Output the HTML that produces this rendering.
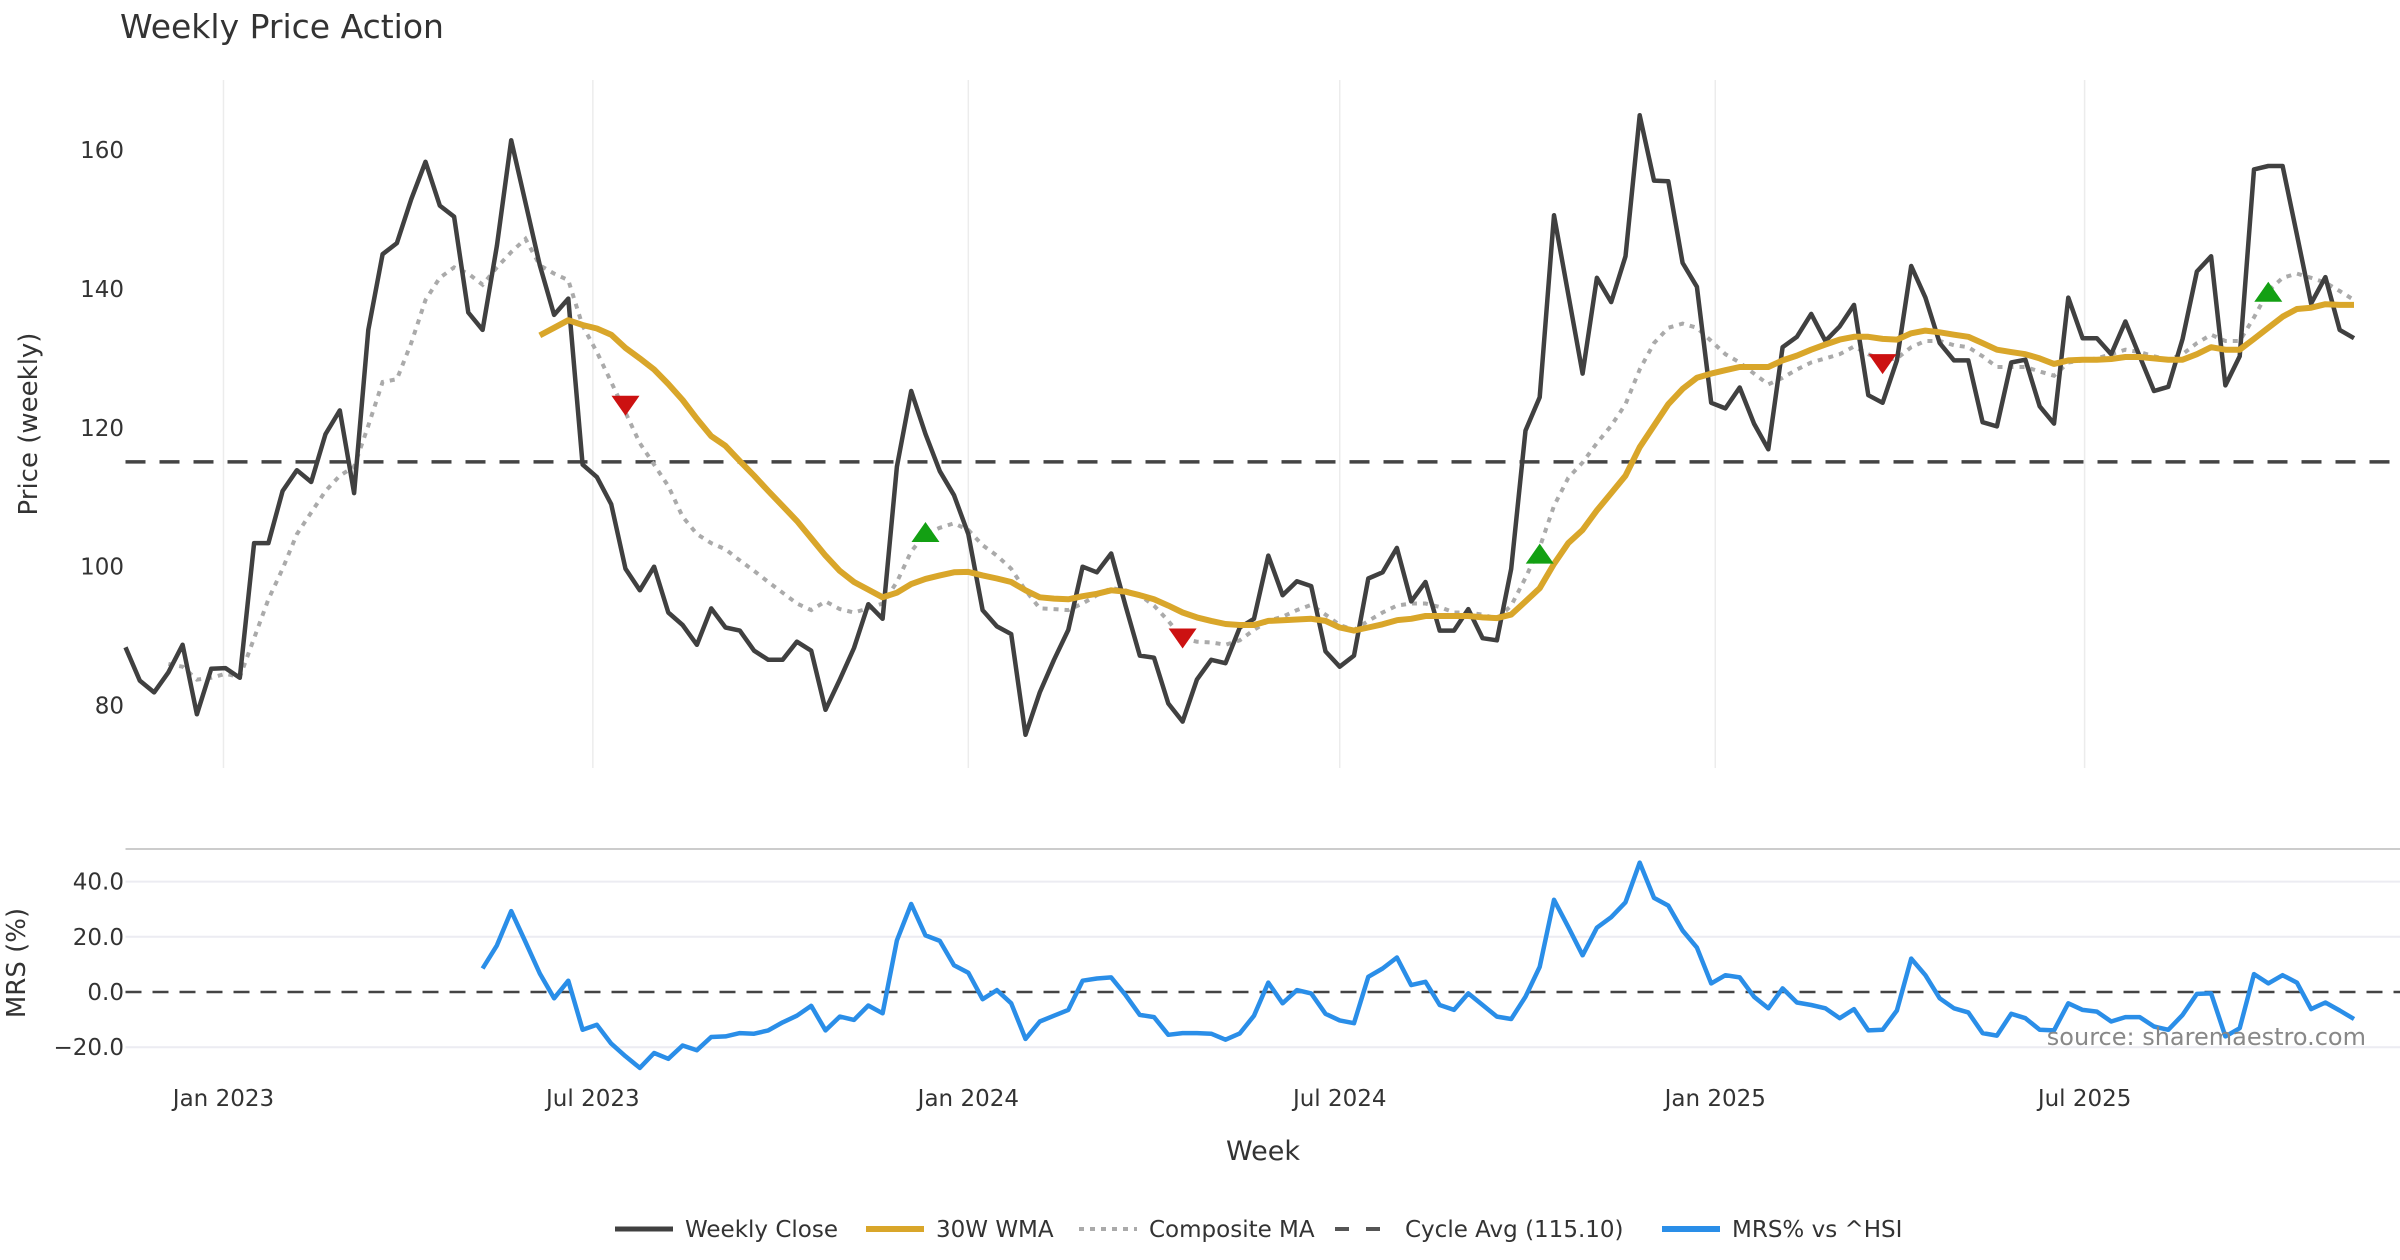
<!DOCTYPE html>
<html><head><meta charset="utf-8"><title>Weekly Price Action</title>
<style>
html,body{margin:0;padding:0;background:#fff;}
svg{display:block;font-family:"DejaVu Sans","Liberation Sans",sans-serif;}
</style></head>
<body>
<svg id="chart" width="2400" height="1260" viewBox="0 0 2400 1260" xmlns="http://www.w3.org/2000/svg">
<text x="120" y="38" font-size="33" fill="#333">Weekly Price Action</text>
<g id="main"></g>
<g id="mrs"></g>
<text x="2366" y="1045" font-size="24" fill="#888" text-anchor="end">source: sharemaestro.com</text>
<text x="1263" y="1160" font-size="27" fill="#333" text-anchor="middle">Week</text>
<text transform="translate(37,424) rotate(-90)" font-size="26" fill="#333" text-anchor="middle">Price (weekly)</text>
<text transform="translate(25,963) rotate(-90)" font-size="26" fill="#333" text-anchor="middle">MRS (%)</text>
<g id="legend"></g>
</svg>
<script>
const startDate = "2022-11-14";
const closeValues = [88.4,83.6,81.9,84.8,88.75,78.75,85.3,85.4,84,103.4,103.4,110.9,113.9,112.2,119.1,122.5,110.6,134.1,145,146.6,152.9,158.3,152,150.4,136.6,134.1,146.2,161.4,152.4,143.4,136.25,138.6,114.7,112.9,109,99.7,96.6,100,93.4,91.6,88.75,94,91.25,90.8,87.9,86.6,86.6,89.2,87.9,79.4,83.75,88.3,94.6,92.5,114.4,125.3,119.1,113.75,110.3,104.7,93.75,91.4,90.3,75.8,81.9,86.6,90.9,100,99.2,101.9,94.4,87.2,86.9,80.3,77.7,83.75,86.6,86.1,91.25,92.5,101.6,95.9,97.9,97.2,87.8,85.6,87.2,98.3,99.2,102.7,95,97.8,90.8,90.8,93.9,89.7,89.4,99.7,119.6,124.4,150.6,139.2,127.8,141.6,138.1,144.7,165,155.6,155.5,143.75,140.3,123.6,122.8,125.8,120.6,116.9,131.6,133.1,136.4,132.5,134.6,137.7,124.7,123.6,129.7,143.3,138.75,132.2,129.7,129.7,120.8,120.2,129.4,129.8,123.1,120.6,138.75,132.9,132.9,130.6,135.3,130.3,125.3,125.9,132.8,142.5,144.7,126.1,130.3,157.2,157.7,157.7,147.8,137.9,141.7,134.1,132.9];
const wmaValues = [null,null,null,null,null,null,null,null,null,null,null,null,null,null,null,null,null,null,null,null,null,null,null,null,null,null,null,null,null,133.3,134.4,135.5,134.8,134.3,133.4,131.5,130,128.4,126.3,124,121.3,118.8,117.4,115.2,113.1,110.9,108.75,106.6,104.1,101.6,99.4,97.8,96.7,95.6,96.25,97.5,98.25,98.75,99.2,99.25,98.75,98.3,97.8,96.6,95.6,95.4,95.3,95.75,96.1,96.6,96.4,95.9,95.3,94.4,93.4,92.7,92.2,91.75,91.6,91.6,92.2,92.3,92.4,92.5,92.2,91.25,90.8,91.25,91.7,92.3,92.5,92.9,92.9,92.9,92.9,92.7,92.6,93.1,95,96.9,100.4,103.4,105.3,108.1,110.6,113.1,117.2,120.3,123.4,125.6,127.2,127.8,128.3,128.75,128.75,128.75,129.7,130.4,131.25,132,132.7,133.1,133.1,132.8,132.7,133.6,134,133.75,133.4,133.1,132.2,131.25,130.9,130.6,130,129.2,129.7,129.8,129.8,129.9,130.2,130.2,130,129.8,129.8,130.6,131.6,131.25,131.25,132.8,134.4,136,137.1,137.3,137.8,137.7,137.7];
const compositeValues = [null,null,null,86,85.6,83.75,84,84.6,84.1,89.7,95.3,99.7,104.7,107.8,110.9,113.1,114.4,120.3,126.6,127,132.2,138.4,141.6,143.1,142.2,140.6,143.1,145.3,147.2,143.4,142.2,141.25,134.7,130.9,126.6,122.2,117.8,114.7,111.6,107.2,104.7,103.4,102.5,100.9,99.4,97.8,96.25,94.7,93.75,95,93.9,93.4,94,94.7,97.8,102.2,104.7,105.6,106.25,105.3,103.1,101.6,99.7,96.6,94,93.9,93.75,94.7,95.9,96.9,96.6,95.9,94.4,92.2,89.7,89.2,89.1,88.75,89.4,90.9,92.2,92.8,93.75,94.5,93.1,91.6,90.9,92.2,93.4,94.4,94.7,94.7,94.2,93.4,93.4,93.1,92.5,94.4,98.4,102.8,108.75,112.8,115,117.8,120.3,123.4,128.4,132.2,134.4,135,134.4,132.5,130.6,129.4,127.8,126.25,127.2,128.4,129.4,130,130.6,131.7,130.6,129.7,130,131.6,132.5,132.5,131.9,131.6,130.3,128.75,128.75,128.75,128.1,127.5,129.4,129.7,130,130.6,131.25,130.9,130.3,129.8,130.6,132.2,133.4,132.5,132.5,135.9,139.7,141.6,142.2,141.6,140.9,139.7,138.4];
const mrsValues = [null,null,null,null,null,null,null,null,null,null,null,null,null,null,null,null,null,null,null,null,null,null,null,null,null,8.5,16.9,29.3,18.1,6.7,-2.3,4.1,-13.7,-11.9,-18.7,-23.3,-27.5,-22.1,-24.2,-19.4,-21.1,-16.3,-16.1,-14.9,-15.1,-13.9,-11,-8.6,-5,-13.9,-8.9,-10.1,-4.9,-7.7,18.7,31.9,20.5,18.5,9.7,7,-2.6,0.7,-4.1,-17,-10.7,-8.6,-6.5,4.1,4.9,5.3,-1.1,-8.3,-9.1,-15.5,-14.9,-14.9,-15.1,-17.3,-15,-8.6,3.4,-4.1,0.7,-0.5,-7.9,-10.3,-11.3,5.5,8.5,12.5,2.5,3.7,-4.7,-6.5,-0.5,-4.7,-8.9,-9.8,-1.7,9.1,33.4,23.5,13.3,23.3,27.1,32.5,46.9,34.1,31.3,22.3,16.1,3.1,6.1,5.3,-1.7,-5.9,1.3,-3.8,-4.7,-5.9,-9.5,-6.2,-13.9,-13.7,-6.7,12.1,6.1,-2.3,-5.9,-7.4,-14.9,-15.8,-7.9,-9.5,-13.7,-13.9,-4.1,-6.5,-7.1,-10.7,-9.1,-9.1,-12.5,-13.7,-8.3,-0.7,-0.5,-16.1,-13.1,6.5,3.1,6.1,3.4,-6.2,-3.8,-6.7,-9.8];
const cycleAvg = 115.10;
const sellIdx = [35,74,123];
const sellVals = [123.6,90.1,129.6];
const buyIdx = [56,99,150];
const buyVals = [104.7,101.6,139.3];
const priceTicks = [80,100,120,140,160];
const mrsTicks = [-20,0,20,40];
const mrsTickLabels = ["\u221220.0","0.0","20.0","40.0"];
const xTickLabels = ["Jan 2023","Jul 2023","Jan 2024","Jul 2024","Jan 2025","Jul 2025"];
const xTickDates = ["2023-01-01","2023-07-01","2024-01-01","2024-07-01","2025-01-01","2025-07-01"];

const NS="http://www.w3.org/2000/svg";
const X0=125.5, X1=2354, nPts=closeValues.length;
function xIdx(i){return X0+(X1-X0)*i/(nPts-1);}
function xDate(d){const w=(new Date(d)-new Date(startDate))/(7*86400000);return xIdx(w);}
function yP(v){return 150+(160-v)*6.945;}
function yM(v){return 992-v*2.76;}
function mk(tag,attrs,parent){const e=document.createElementNS(NS,tag);for(const k in attrs)e.setAttribute(k,attrs[k]);parent.appendChild(e);return e;}
function pathFrom(vals,yf){let d="",pen=false;vals.forEach((v,i)=>{if(v==null){pen=false;return;}d+=(pen?"L":"M")+xIdx(i).toFixed(1)+","+yf(v).toFixed(1);pen=true;});return d;}
const mainG=document.getElementById('main'), mrsG=document.getElementById('mrs');

xTickDates.forEach((d,k)=>{
  const x=xDate(d);
  const g=mk('line',{x1:x,x2:x,y1:80,y2:768,stroke:'#ececec','stroke-width':1.5},mainG);
  
  
  const t=mk('text',{x:x,y:1106,'font-size':23,fill:'#333','text-anchor':'middle'},mainG);
  t.textContent=xTickLabels[k];
  
  
});
priceTicks.forEach(v=>{
  const t=mk('text',{x:124,y:yP(v)+8,'font-size':23,fill:'#333','text-anchor':'end'},mainG);
  t.textContent=v;
  
  
});
const cyc=mk('line',{x1:125.5,x2:2400,y1:yP(cycleAvg),y2:yP(cycleAvg),stroke:'#444','stroke-width':3.5,'stroke-dasharray':'20,14'},mainG);


const comp=mk('path',{d:pathFrom(compositeValues,yP),fill:'none',stroke:'#aaa','stroke-width':4,'stroke-dasharray':'5,6'},mainG);


const cl=mk('path',{d:pathFrom(closeValues,yP),fill:'none',stroke:'#404040','stroke-width':4.5,'stroke-linejoin':'round'},mainG);


const wma=mk('path',{d:pathFrom(wmaValues,yP),fill:'none',stroke:'#d9a62a','stroke-width':6,'stroke-linejoin':'round'},mainG);


sellIdx.forEach((i,k)=>{
  const x=xIdx(i),y=yP(sellVals[k]);
  const p=mk('polygon',{points:`${x-14},${y-7} ${x+14},${y-7} ${x},${y+13}`,fill:'#cc1111'},mainG);
  
  
});
buyIdx.forEach((i,k)=>{
  const x=xIdx(i),y=yP(buyVals[k]);
  const p=mk('polygon',{points:`${x-14},${y+8} ${x+14},${y+8} ${x},${y-12}`,fill:'#13a013'},mainG);
  
  
});

const panelBorder=mk('line',{x1:125.5,x2:2400,y1:849,y2:849,stroke:'#ccc','stroke-width':2},mrsG);


mrsTicks.forEach((v,k)=>{
  if(v!==0){
    const g=mk('line',{x1:125.5,x2:2400,y1:yM(v),y2:yM(v),stroke:'#ececf2','stroke-width':2},mrsG);
    
    
  }
  const t=mk('text',{x:124,y:yM(v)+8,'font-size':23,fill:'#333','text-anchor':'end'},mrsG);
  t.textContent=mrsTickLabels[k];
  
  
});
const zeroLine=mk('line',{x1:125.5,x2:2400,y1:yM(0),y2:yM(0),stroke:'#444','stroke-width':2.5,'stroke-dasharray':'16,11'},mrsG);


const mrsPath=mk('path',{d:pathFrom(mrsValues,yM),fill:'none',stroke:'#2a8ee8','stroke-width':4.5,'stroke-linejoin':'round'},mrsG);



const legG=document.getElementById('legend');
const legendLabels=["Weekly Close","30W WMA","Composite MA","Cycle Avg (115.10)","MRS% vs ^HSI"];
const legendX=[615,866,1079,1335,1662];
const legendStyles=[{stroke:'#404040',w:5,da:''},{stroke:'#d9a62a',w:6,da:''},{stroke:'#aaa',w:4,da:'5,6'},{stroke:'#555',w:4,da:'14,17'},{stroke:'#2a8ee8',w:6,da:''}];
legendLabels.forEach((lab,k)=>{
  const s=legendStyles[k],x=legendX[k];
  const l=mk('line',{x1:x,x2:x+58,y1:1229,y2:1229,stroke:s.stroke,'stroke-width':s.w,'stroke-dasharray':s.da},legG);
  
  
  const t=mk('text',{x:x+70,y:1237,'font-size':23,fill:'#333'},legG);
  t.textContent=lab;
  
  
});
</script>
</body></html>
